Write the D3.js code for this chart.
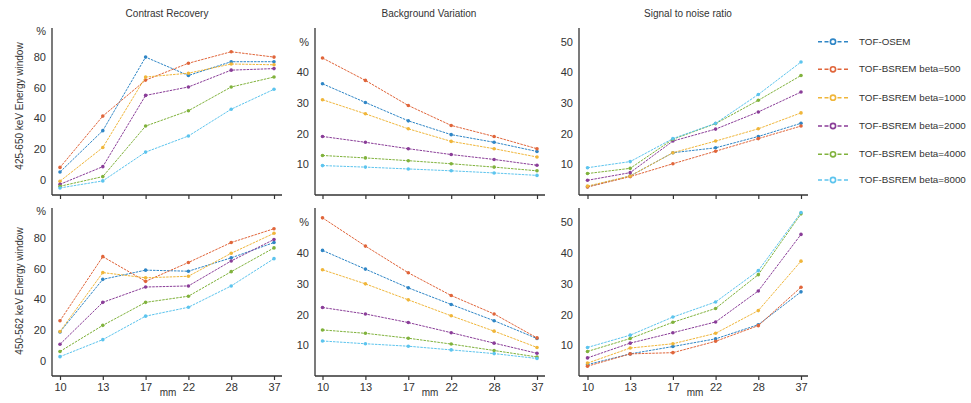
<html>
<head>
<style>
  body { margin: 0; background: #fff; }
  svg text { font-family: "Liberation Sans", Arial, sans-serif; fill: #333; }
</style>
</head>
<body>
<svg id="chart" width="971" height="403"></svg>
<script src="https://cdn.jsdelivr.net/npm/d3@7"></script>
<script>
// lesion sizes (mm)
const sizes = [10, 13, 17, 22, 28, 37];
const methods = ["TOF-OSEM", "TOF-BSREM beta=500", "TOF-BSREM beta=1000",
                 "TOF-BSREM beta=2000", "TOF-BSREM beta=4000", "TOF-BSREM beta=8000"];
const colors = ["#2f86c6", "#e0653a", "#f0b63a", "#8a3d98", "#80b23c", "#5cc4ee"];

// contrast recovery, % (one row per method)
const crTop = [
  [5, 32, 80, 68, 77, 77],
  [8, 41.5, 65, 76, 83.5, 80],
  [-1, 21, 67, 69.5, 75.5, 75],
  [-3, 8.5, 55, 60.5, 71.5, 72.5],
  [-4.3, 2, 35, 45, 60.5, 67],
  [-5.4, -0.8, 18, 28.5, 46, 59]
];
const crBottom = [
  [18.7, 53, 59, 58.3, 67, 77],
  [26, 67.8, 51.7, 64, 77, 86],
  [19, 57.4, 54, 55, 70, 83],
  [10.7, 38, 48, 48.7, 65, 79],
  [6, 23, 38, 42, 58, 73.5],
  [2.6, 13.7, 29, 34.8, 48.7, 66.5]
];
// background variation, %
const bvTop = [
  [36.3, 30.2, 24.2, 19.7, 17.2, 14.2],
  [44.7, 37.4, 29.2, 22.7, 19.1, 15.1],
  [31.1, 26.5, 21.6, 17.5, 15.1, 12.4],
  [19.1, 17.2, 15.1, 13.2, 11.6, 9.7],
  [12.9, 12.1, 11.2, 10.2, 9.1, 7.9],
  [9.6, 9.1, 8.5, 7.9, 7.2, 6.4]
];
const bvBottom = [
  [40.9, 34.8, 28.7, 23.3, 18.0, 12.2],
  [51.5, 42.3, 33.6, 26.2, 20.2, 12.4],
  [34.6, 30, 24.8, 19.6, 14.6, 9.3],
  [22.3, 20.2, 17.4, 14.1, 10.7, 7.4],
  [15, 13.9, 12.3, 10.4, 8.3, 6.2],
  [11.4, 10.5, 9.7, 8.5, 7.3, 5.7]
];
// signal to noise ratio
const snrTop = [
  [2.7, 6.2, 13.8, 15.4, 19.1, 23.4],
  [2.6, 6, 10.2, 14.3, 18.4, 22.5],
  [2.9, 6.2, 13.8, 17.6, 21.6, 26.8],
  [4.8, 7.3, 17.6, 21.5, 27.1, 33.6],
  [7, 8.7, 18.2, 23.3, 30.9, 39],
  [8.9, 10.9, 18.4, 23.4, 32.8, 43.4]
];
const snrBottom = [
  [3.7, 7.2, 9.6, 12.1, 16.7, 27.4],
  [3.2, 7.2, 7.6, 11.3, 16.4, 28.9],
  [4.2, 9.1, 10.5, 13.9, 21.3, 37.4],
  [5.9, 10.7, 14.1, 17.6, 27.7, 46.1],
  [8, 12.2, 17.5, 22, 33, 52.8],
  [9.3, 13.3, 19.2, 24.1, 34.3, 53.2]
];

const svg = d3.select("#chart");

const cols = [
  { ax: 52, x0: 60, x1: 274, end: 282 },
  { ax: 315, x0: 322.5, x1: 537, end: 545 },
  { ax: 579, x0: 587.5, x1: 801, end: 808 }
];
const rows = [{ top: 28, bottom: 195 }, { top: 208, bottom: 376 }];

const panels = [
  { data: crTop, col: 0, row: 0, domain: [-10, 99], ticks: [0, 20, 40, 60, 80], pct: 96.5 },
  { data: bvTop, col: 1, row: 0, domain: [0, 54.5], ticks: [10, 20, 30, 40, 50], pct: "tick" },
  { data: snrTop, col: 2, row: 0, domain: [0, 54.5], ticks: [10, 20, 30, 40, 50] },
  { data: crBottom, col: 0, row: 1, domain: [-10, 99.5], ticks: [0, 20, 40, 60, 80], pct: 97.5 },
  { data: bvBottom, col: 1, row: 1, domain: [0, 54.7], ticks: [10, 20, 30, 40, 50], pct: "tick" },
  { data: snrBottom, col: 2, row: 1, domain: [0, 54.7], ticks: [10, 20, 30, 40, 50] }
];

panels.forEach(p => {
  const c = cols[p.col], r = rows[p.row];
  const x = d3.scalePoint().domain(sizes).range([c.x0, c.x1]);
  const y = d3.scaleLinear().domain(p.domain).range([r.bottom, r.top]);
  const g = svg.append("g");

  // y axis
  const ya = g.append("g").attr("transform", `translate(${c.ax},0)`)
    .call(d3.axisLeft(y).tickValues(p.ticks).tickSize(0).tickPadding(6)
      .tickFormat(d => (p.pct === "tick" && d === 50) ? "%" : d));
  ya.select(".domain").remove();
  ya.selectAll("text").style("font-size", "11px").attr("fill", "#333");

  // x axis
  const xa = g.append("g").attr("transform", `translate(0,${r.bottom})`)
    .call(d3.axisBottom(x).tickSize(4).tickPadding(3)
      .tickFormat(d => p.row === 1 ? d : ""));
  xa.select(".domain").remove();
  xa.selectAll("line").attr("stroke", "#333").attr("stroke-width", 1.2);
  xa.selectAll("text").style("font-size", "11px").attr("fill", "#333");

  g.append("line").attr("x1", c.ax).attr("x2", c.ax).attr("y1", r.top).attr("y2", r.bottom)
    .attr("stroke", "#333").attr("stroke-width", 1.3);
  g.append("line").attr("x1", c.ax).attr("x2", c.end).attr("y1", r.bottom).attr("y2", r.bottom)
    .attr("stroke", "#333").attr("stroke-width", 1.3);

  if (typeof p.pct === "number") {
    g.append("text").attr("x", c.ax - 6).attr("y", y(p.pct)).attr("dy", "0.32em")
      .attr("text-anchor", "end").style("font-size", "11px").text("%");
  }

  const line = d3.line().x((d, i) => x(sizes[i])).y(d => y(d));
  p.data.forEach((s, k) => {
    g.append("path").datum(s).attr("d", line).attr("fill", "none")
      .attr("stroke", colors[k]).attr("stroke-width", 1).attr("stroke-dasharray", "2.5,1");
    g.selectAll(null).data(s).join("circle")
      .attr("cx", (d, i) => x(sizes[i])).attr("cy", d => y(d)).attr("r", 1.8)
      .attr("fill", colors[k]);
  });
});

// column titles
const titles = ["Contrast Recovery", "Background Variation", "Signal to noise ratio"];
const titleX = [167, 429, 688];
svg.selectAll(".title").data(titles).join("text")
  .attr("x", (d, i) => titleX[i]).attr("y", 14).attr("dy", "0.32em")
  .attr("text-anchor", "middle").style("font-size", "10px").text(d => d);

// row labels
const rowLabels = ["425-650 keV Energy window", "450-562 keV Energy window"];
const rowY = [106, 291];
rowLabels.forEach((t, i) => {
  svg.append("text").attr("transform", `translate(20,${rowY[i]}) rotate(-90)`)
    .attr("dy", "0.32em").attr("text-anchor", "middle").style("font-size", "10px").text(t);
});

// x unit labels
[168, 430, 695].forEach(xp => {
  svg.append("text").attr("x", xp).attr("y", 393).attr("dy", "0.32em")
    .attr("text-anchor", "middle").style("font-size", "10px").text("mm");
});

// legend
const leg = svg.append("g");
methods.forEach((m, k) => {
  const ly = [41.7, 69.3, 97.7, 126, 154.3, 180][k];
  leg.append("line").attr("x1", 818).attr("x2", 848).attr("y1", ly).attr("y2", ly)
    .attr("stroke", colors[k]).attr("stroke-width", 1.5).attr("stroke-dasharray", "4,2.5");
  leg.append("circle").attr("cx", 833).attr("cy", ly).attr("r", 2.6)
    .attr("fill", "#fff").attr("stroke", colors[k]).attr("stroke-width", 1.6);
  leg.append("text").attr("x", 859).attr("y", ly).attr("dy", "0.32em")
    .style("font-size", "9.8px").text(m);
});
</script>
</body>
</html>
